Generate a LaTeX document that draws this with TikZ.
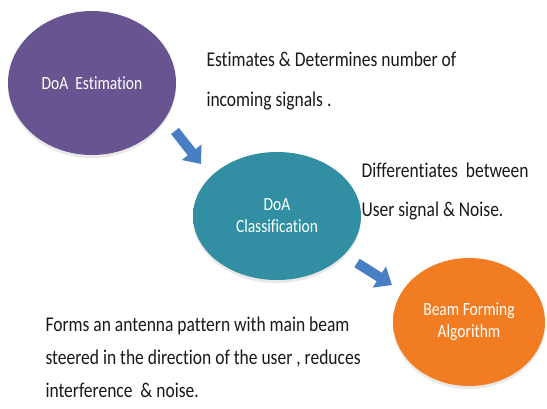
\documentclass[tikz,border=0pt]{standalone}
\usepackage{fontspec}
\setmainfont{Carlito}[Ligatures=NoCommon]
\usetikzlibrary{arrows.meta,shapes.geometric,shadows}

% body colours of the three stages
\definecolor{estIn}{RGB}{104,84,145}
\definecolor{estOut}{RGB}{78,58,118}
\definecolor{clsIn}{RGB}{50,142,162}
\definecolor{clsOut}{RGB}{28,108,128}
\definecolor{bfIn}{RGB}{242,124,34}
\definecolor{bfOut}{RGB}{214,96,18}
\definecolor{flowBlue}{RGB}{72,126,196}
\definecolor{bodyText}{RGB}{25,25,25}

% flat centre with a darker rim near the edge
\pgfdeclareradialshading{estRim}{\pgfpoint{0bp}{0bp}}{color(0bp)=(estIn); color(36bp)=(estIn); color(50bp)=(estOut)}
\pgfdeclareradialshading{clsRim}{\pgfpoint{0bp}{0bp}}{color(0bp)=(clsIn); color(36bp)=(clsIn); color(50bp)=(clsOut)}
\pgfdeclareradialshading{bfRim}{\pgfpoint{0bp}{0bp}}{color(0bp)=(bfIn); color(36bp)=(bfIn); color(50bp)=(bfOut)}

% lettering is set slightly taller than wide
\newcommand{\tallText}[1]{\scalebox{1}[1.2]{#1}}

\tikzset{
  stage/.style={ellipse, inner sep=0pt, text=white, font=\fontsize{15.5}{19}\selectfont,
    align=center, drop shadow={opacity=0.18, shadow xshift=0pt, shadow yshift=-3pt}},
  note/.style={anchor=base west, text=bodyText, font=\fontsize{17.5}{20}\selectfont},
  flow/.style={flowBlue, line width=10pt, -{Triangle[width=24pt,length=15pt]}}
}

\begin{document}
\begin{tikzpicture}[x=1pt,y=-1pt]
\useasboundingbox (0,0) rectangle (547,408);

% the three processing stages
\node[stage, shading=estRim, minimum width=168pt, minimum height=144pt] (est) at (92,83) {\tallText{DoA\ \ Estimation}};
\node[stage, shading=clsRim, minimum width=168pt, minimum height=128pt] (cls) at (277,216) {\tallText{DoA}\\[3pt]\tallText{Classification}};
\node[stage, shading=bfRim, minimum width=152pt, minimum height=128pt] (bf) at (469,322) {\tallText{Beam Forming}\\[3pt]\tallText{Algorithm}};

% ends of the block arrows between the stages
\coordinate (f1s) at (175,131);
\coordinate (f1e) at (201,164);
\coordinate (f2s) at (357,263);
\coordinate (f2e) at (392,285);
\draw[flow] (f1s) -- (f1e);
\draw[flow] (f2s) -- (f2e);

% descriptions beside each stage
\node[note] (t1a) at (203,66) {\tallText{Estimates \& Determines number of}};
\node[note] (t1b) at (203,106) {\tallText{incoming signals .}};
\node[note] (t2a) at (358,177) {\tallText{Differentiates\ \ between}};
\node[note] (t2b) at (358,216) {\tallText{User signal \& Noise.}};
\node[note] (t3a) at (42,331) {\tallText{Forms an antenna pattern with main beam}};
\node[note] (t3b) at (42,364) {\tallText{steered in the direction of the user , reduces}};
\node[note] (t3c) at (42,397) {\tallText{interference\ \ \& noise.}};
\end{tikzpicture}
\end{document}
